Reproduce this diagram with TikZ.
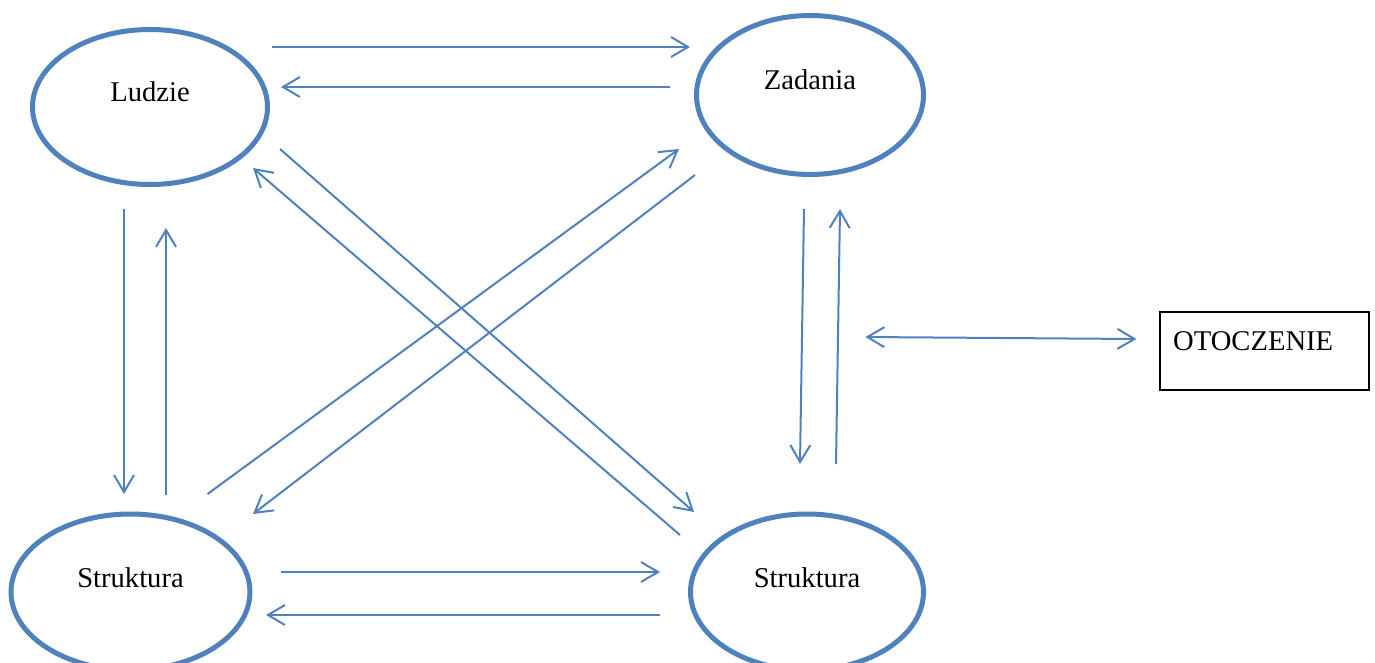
\documentclass[tikz,border=0pt]{standalone}
\usepackage{fontspec}
\setmainfont{Liberation Serif}
\usetikzlibrary{shapes.geometric,arrows.meta}
\definecolor{accent}{HTML}{4F81BD}
\tikzset{
  ell/.style={ellipse, draw=accent, line width=5pt, inner sep=0pt, fill=white},
  txt/.style={anchor=base, inner sep=0pt, font=\fontsize{28.6}{32}\selectfont},
  link/.style={draw=accent, line width=2pt, -{Straight Barb[length=17pt,width=20pt]}},
  twoway/.style={draw=accent, line width=2pt, {Straight Barb[length=17pt,width=20pt]}-{Straight Barb[length=17pt,width=20pt]}},
  envbox/.style={draw=black, line width=1.2pt, minimum width=209pt, minimum height=78pt, inner sep=0pt}
}
\begin{document}
\begin{tikzpicture}[x=1pt,y=-1pt]
\useasboundingbox (0,0) rectangle (1375,663);

% the four elements of the organisation
\node[ell, minimum width=235pt, minimum height=155pt] (L)  at (150,107) {};
\node[ell, minimum width=227pt, minimum height=159pt] (Z)  at (810,95)  {};
\node[ell, minimum width=239pt, minimum height=156pt] (SL) at (130.5,592) {};
\node[ell, minimum width=233pt, minimum height=156pt] (SR) at (807,592) {};

\node[txt] (Lt)  at ([yshift=5pt]L.center)  {Ludzie};
\node[txt] (Zt)  at ([yshift=5pt]Z.center)  {Zadania};
\node[txt] (SLt) at ([yshift=5pt]SL.center) {Struktura};
\node[txt] (SRt) at ([yshift=5pt]SR.center) {Struktura};

% environment
\node[envbox] (O) at (1264.5,351) {};
\node[txt, anchor=base west] (Ot) at (1173,350) {OTOCZENIE};

% Ludzie <-> Zadania
\draw[link] ([shift={(122,-60)}]L.center) -- ([shift={(-120,-48)}]Z.center);
\draw[link] ([shift={(-140,-8)}]Z.center) -- ([shift={(131,-20)}]L.center);

% Ludzie <-> Struktura (left)
\draw[link] ([shift={(-26,102)}]L.center) -- ([shift={(-6.5,-98)}]SL.center);
\draw[link] ([shift={(35.5,-97)}]SL.center) -- ([shift={(16,121)}]L.center);

% Ludzie <-> Struktura (right)
\draw[link] ([shift={(130,42)}]L.center) -- ([shift={(-113,-80)}]SR.center);
\draw[link] ([shift={(-127,-57)}]SR.center) -- ([shift={(103,61)}]L.center);

% Zadania <-> Struktura (left)
\draw[link] ([shift={(77,-98)}]SL.center) -- ([shift={(-131,54)}]Z.center);
\draw[link] ([shift={(-115,80)}]Z.center) -- ([shift={(122.5,-78)}]SL.center);

% Zadania <-> Struktura (right)
\draw[link] ([shift={(-6,114)}]Z.center) -- ([shift={(-7,-128)}]SR.center);
\draw[link] ([shift={(29,-128)}]SR.center) -- ([shift={(30,114)}]Z.center);

% Struktura (left) <-> Struktura (right)
\draw[link] ([shift={(150.5,-20)}]SL.center) -- ([shift={(-147,-20)}]SR.center);
\draw[link] ([shift={(-147,23)}]SR.center) -- ([shift={(135.5,23)}]SL.center);

% exchange with the environment
\coordinate (E) at ([shift={(-294,-14)}]O.west);
\draw[twoway] (E) -- ([shift={(-23,-12)}]O.west);
\end{tikzpicture}
\end{document}
